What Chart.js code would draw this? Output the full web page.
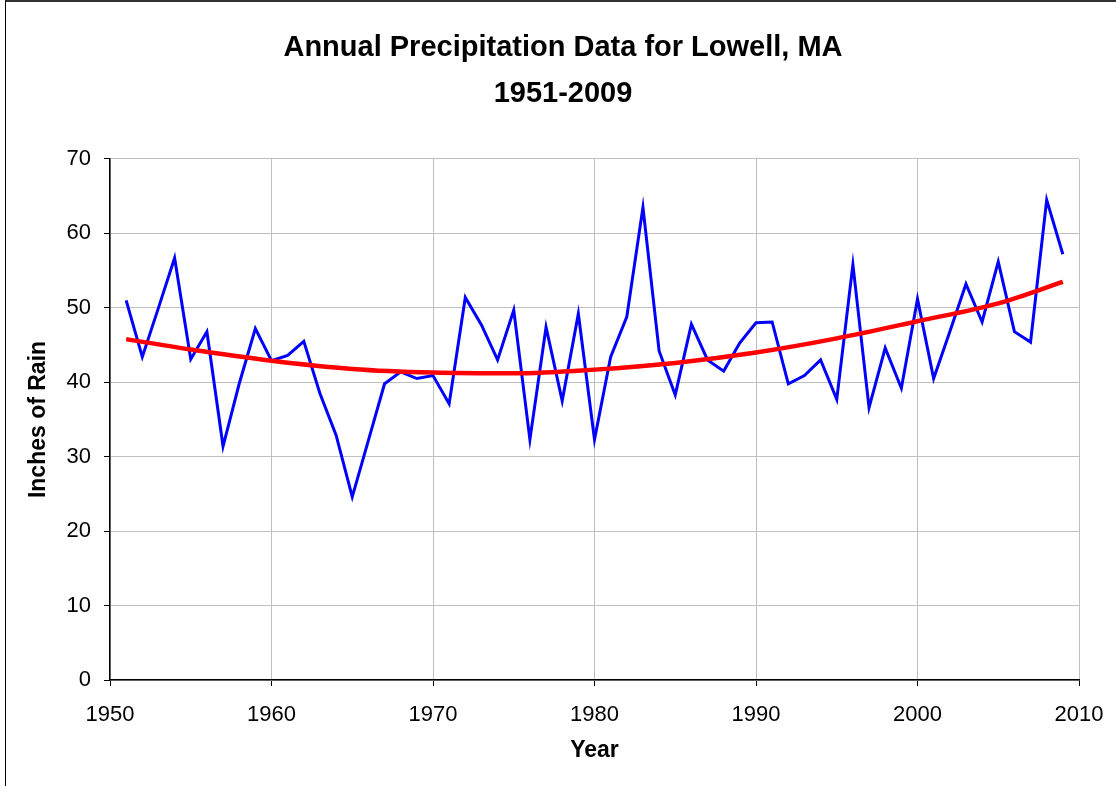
<!DOCTYPE html>
<html>
<head>
<meta charset="utf-8">
<script src="https://cdn.jsdelivr.net/npm/chart.js@4"></script>
<style>
    body { margin: 0; background: #fff; }
    #frame { position: absolute; left: 5px; top: 0; width: 1200px; height: 900px;
             border-left: 1.5px solid #000; border-top: 2px solid #333; }
    #myChart { position: absolute; left: 0; top: 0; }
</style>
</head>
<body>
<div id="frame"></div>
<canvas id="myChart" width="1116" height="786"></canvas>
<script>
//years and annual rain totals (inches)
const years = [
    1951, 1952, 1953, 1954, 1955, 1956, 1957, 1958, 1959, 1960,
    1961, 1962, 1963, 1964, 1965, 1966, 1967, 1968, 1969, 1970,
    1971, 1972, 1973, 1974, 1975, 1976, 1977, 1978, 1979, 1980,
    1981, 1982, 1983, 1984, 1985, 1986, 1987, 1988, 1989, 1990,
    1991, 1992, 1993, 1994, 1995, 1996, 1997, 1998, 1999, 2000,
    2001, 2002, 2003, 2004, 2005, 2006, 2007, 2008, 2009
];
const rain = [
    51.0, 43.4, 50.0, 56.7, 43.1, 46.8, 31.4, 39.8, 47.2, 42.9,
    43.6, 45.5, 38.5, 32.9, 24.6, 32.2, 39.8, 41.4, 40.5, 40.9,
    37.1, 51.4, 47.7, 43.0, 49.7, 32.3, 47.4, 37.5, 49.2, 32.3,
    43.4, 48.8, 63.5, 44.2, 38.3, 47.8, 43.0, 41.5, 45.3, 48.0,
    48.1, 39.8, 40.9, 43.0, 37.7, 55.8, 36.6, 44.6, 39.2, 51.2,
    40.5, 46.8, 53.2, 48.1, 56.2, 46.8, 45.4, 64.5, 57.2
];

//trend line
const trendYears = [1951, 1955, 1960, 1965, 1970, 1975, 1980, 1985, 1990, 1995, 2000, 2005, 2009];
const trendRain = [45.8, 44.4, 42.9, 41.8, 41.3, 41.2, 41.7, 42.6, 44.0, 45.9, 48.2, 50.6, 53.5];

const yTicks = [0, 10, 20, 30, 40, 50, 60, 70];
const xTicks = [1950, 1960, 1970, 1980, 1990, 2000, 2010];

const fontFamily = '"Liberation Sans", Arial, sans-serif';

//nudge the title a bit to the right, like the original
const titleShift = {
    id: 'titleShift',
    afterLayout(chart) {
        if (chart.titleBlock) {
            chart.titleBlock.left += 42;
        }
    }
};

function renderChart(){
    const ctx = document.getElementById('myChart');
    new Chart(ctx, {
        type: 'line',
        data: {
            datasets: [{
                data: years.map((y, i) => ({ x: y, y: rain[i] })),
                borderColor: '#0000ff',
                borderWidth: 3,
                pointRadius: 0,
                tension: 0,
                order: 2
            }, {
                data: trendYears.map((y, i) => ({ x: y, y: trendRain[i] })),
                borderColor: '#ff0000',
                borderWidth: 4.5,
                pointRadius: 0,
                cubicInterpolationMode: 'monotone',
                order: 1
            }]
        },
        options: {
            responsive: false,
            animation: false,
            layout: { padding: { left: 5, right: 37, top: 0, bottom: 0 } },
            plugins: {
                legend: { display: false },
                tooltip: { enabled: false },
                title: {
                    display: true,
                    text: ['Annual Precipitation Data for Lowell, MA', '1951-2009'],
                    color: '#000',
                    font: { family: fontFamily, size: 29, weight: 'bold', lineHeight: 1.586 },
                    padding: { top: 25, bottom: 42 }
                }
            },
            scales: {
                x: {
                    type: 'linear',
                    min: 1950,
                    max: 2010,
                    afterBuildTicks: (scale) => { scale.ticks = xTicks.map(v => ({ value: v })); },
                    afterFit: (scale) => {
                        scale.height = 106;
                        scale.paddingLeft = 0;
                        scale.paddingRight = 0;
                    },
                    grid: { color: '#c0c0c0', tickColor: '#000', tickLength: 6 },
                    border: { color: '#000', width: 1.5 },
                    ticks: {
                        color: '#000',
                        padding: 16,
                        font: { family: fontFamily, size: 22 },
                        callback: (v) => String(v)
                    },
                    title: {
                        display: true,
                        text: 'Year',
                        color: '#000',
                        font: { family: fontFamily, size: 23, weight: 'bold' },
                        padding: { top: 0, bottom: 22 }
                    }
                },
                y: {
                    min: 0,
                    max: 70,
                    afterBuildTicks: (scale) => { scale.ticks = yTicks.map(v => ({ value: v })); },
                    afterFit: (scale) => { scale.width = 105; },
                    grid: { color: '#c0c0c0', tickColor: '#000', tickLength: 6 },
                    border: { color: '#000', width: 1.5 },
                    ticks: {
                        color: '#000',
                        padding: 13,
                        font: { family: fontFamily, size: 22 }
                    },
                    title: {
                        display: true,
                        text: 'Inches of Rain',
                        color: '#000',
                        font: { family: fontFamily, size: 23, weight: 'bold' },
                        padding: { top: 20, bottom: 0 }
                    }
                }
            }
        },
        plugins: [titleShift]
    });
}

renderChart();
</script>
</body>
</html>
